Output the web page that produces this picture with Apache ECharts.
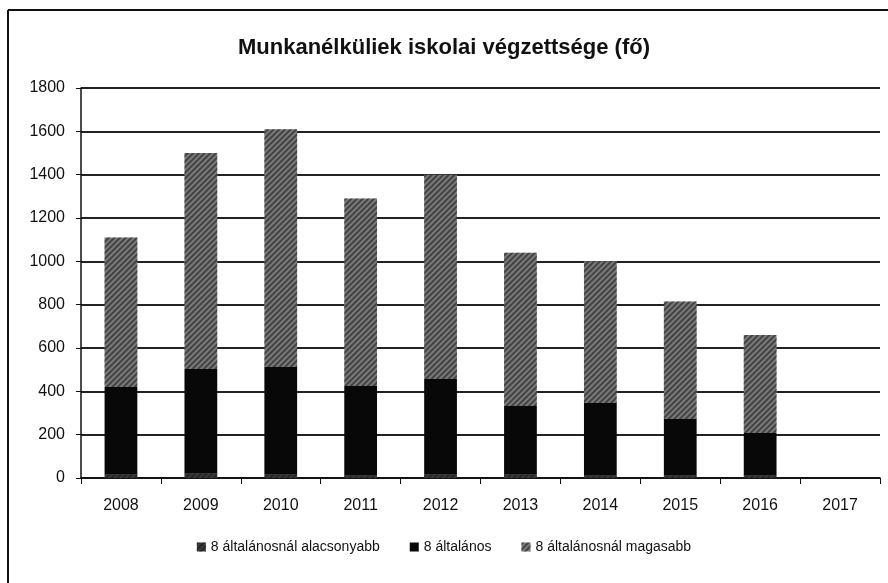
<!DOCTYPE html>
<html>
<head>
<meta charset="utf-8">
<script src="https://cdn.jsdelivr.net/npm/echarts@6/dist/echarts.min.js"></script>
<style>
  html, body { margin: 0; padding: 0; background: #fff; }
  #chart { width: 888px; height: 583px; }
</style>
</head>
<body>
<div id="chart"></div>
<script>
// évek
var years = ['2008', '2009', '2010', '2011', '2012', '2013', '2014', '2015', '2016', '2017'];
// 8 általánosnál alacsonyabb (alig látszik)
var alacsonyabb = [15, 20, 15, 10, 15, 15, 10, 10, 10, 0];
// 8 általános (fekete rész)
var altalanos = [405, 483, 497, 415, 442, 317, 336, 262, 198, 0];
// 8 általánosnál magasabb (szürke rész)
var magasabb = [690, 997, 1098, 865, 943, 708, 654, 543, 452, 0];
var yTicks = [0, 1800, 200];

var font = "'Liberation Sans', Arial, sans-serif";

var chart = echarts.init(document.getElementById('chart'), null, { renderer: 'canvas' });

var hatch = {
  symbol: 'rect',
  dashArrayX: [1, 0],
  dashArrayY: [2, 2],
  rotation: -Math.PI / 4,
  color: 'rgba(20,20,20,0.55)'
};

chart.setOption({
  backgroundColor: '#fff',
  animation: false,
  title: {
    text: 'Munkanélküliek iskolai végzettsége (fő)',
    left: 'center',
    top: 32,
    textStyle: { fontFamily: font, fontSize: 22, fontWeight: 'bold', color: '#111' }
  },
  legend: {
    bottom: 24,
    left: 'center',
    icon: 'rect',
    itemWidth: 9,
    itemHeight: 9,
    itemGap: 30,
    textStyle: { fontFamily: font, fontSize: 14, color: '#111' },
    data: ['8 általánosnál alacsonyabb', '8 általános', '8 általánosnál magasabb']
  },
  grid: { left: 81, right: 8, top: 88, bottom: 105 },
  xAxis: {
    type: 'category',
    data: years,
    axisLine: { lineStyle: { color: '#111', width: 1.5 } },
    axisTick: { show: true, length: 6, lineStyle: { color: '#111' } },
    axisLabel: { fontFamily: font, fontSize: 16, color: '#111', margin: 20 }
  },
  yAxis: {
    type: 'value',
    min: yTicks[0],
    max: yTicks[1],
    interval: yTicks[2],
    axisLine: { show: true, lineStyle: { color: '#111', width: 1.5 } },
    axisTick: { show: true, length: 5, lineStyle: { color: '#111' } },
    axisLabel: {
      fontFamily: font, fontSize: 16, color: '#111', margin: 16,
      formatter: function (v) { return String(v); }
    },
    splitLine: { lineStyle: { color: '#222', width: 2 } }
  },
  series: [
    {
      name: '8 általánosnál alacsonyabb',
      type: 'bar',
      stack: 'total',
      barWidth: '41%',
      data: alacsonyabb,
      itemStyle: { color: '#3a3a3a', decal: hatch }
    },
    {
      name: '8 általános',
      type: 'bar',
      stack: 'total',
      data: altalanos,
      itemStyle: { color: '#080808' }
    },
    {
      name: '8 általánosnál magasabb',
      type: 'bar',
      stack: 'total',
      data: magasabb,
      itemStyle: { color: '#7a7a7a', decal: hatch }
    }
  ],
  graphic: [
    // keret a diagram körül
    { type: 'line', shape: { x1: 8, y1: 10, x2: 888, y2: 10 }, style: { stroke: '#111', lineWidth: 2 } },
    { type: 'line', shape: { x1: 8, y1: 10, x2: 8, y2: 583 }, style: { stroke: '#111', lineWidth: 2 } }
  ]
});
</script>
</body>
</html>
